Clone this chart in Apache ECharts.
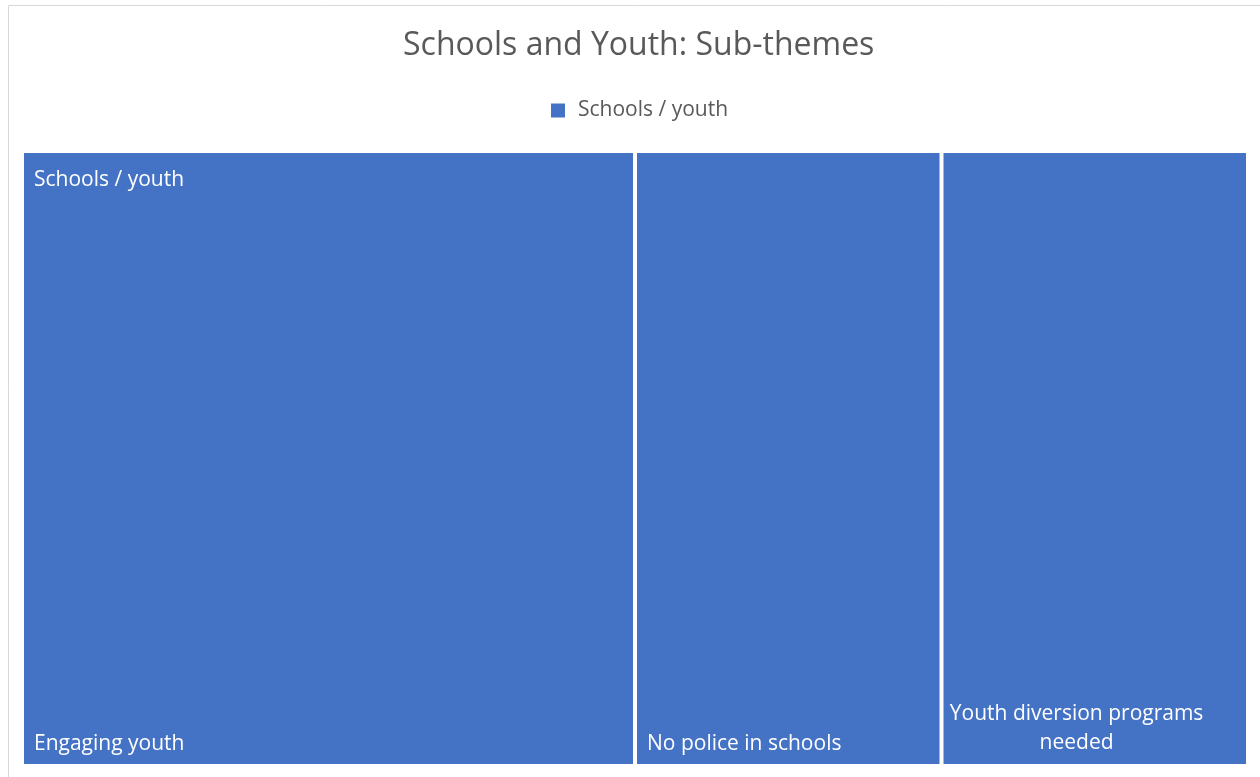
<!DOCTYPE html>
<html><head><meta charset="utf-8">
<script src="https://cdn.jsdelivr.net/npm/echarts@6/dist/echarts.min.js"></script>
<style>html,body{margin:0;padding:0;background:#fff}#c{width:1260px;height:777px}</style>
</head><body><div id="c"></div>
<script>
const title = 'Schools and Youth: Sub-themes';
const parentName = 'Schools / youth';
const categories = ['Engaging youth', 'No police in schools', 'Youth diversion programs needed'];
const values = [2, 1, 1];

const FONT = '"Open Sans", sans-serif';
const BLUE = '#4472c4';
const chart = echarts.init(document.getElementById('c'));
const leafLabel = {
  show: true, position: 'insideBottomLeft', distance: 0, offset: [5, -4],
  color: '#fff', fontFamily: FONT, fontSize: 21
};
const data = categories.map((n, i) => {
  const d = { name: n, value: values[i], itemStyle: { color: BLUE } };
  if (i === 2) {
    d.label = { position: ['44%', '100%'], offset: [0, -1], align: 'center', verticalAlign: 'bottom',
      lineHeight: 29, formatter: 'Youth diversion programs\nneeded' };
  }
  return d;
});
chart.setOption({
  animation: false,
  color: [BLUE],
  title: { text: title, left: 398, top: 25, textStyle: { color: '#595959', fontFamily: FONT, fontSize: 32, fontWeight: 'normal' } },
  legend: { data: [{ name: parentName, itemStyle: { color: BLUE } }], top: 95, left: 546, itemWidth: 14, itemHeight: 14, icon: 'rect',
    textStyle: { color: '#595959', fontFamily: FONT, fontSize: 21, padding: [0, 0, 0, 8] } },
  graphic: [
    { type: 'rect', shape: { x: 8.5, y: 5.5, width: 1260, height: 800 }, style: { fill: 'none', stroke: '#d9d9d9', lineWidth: 1 }, silent: true },
    { type: 'text', left: 34, top: 170, style: { text: parentName, fill: '#fff', font: '21px ' + FONT }, silent: true, z: 100 }
  ],
  series: [{
    type: 'treemap', name: parentName,
    left: 24, top: 153, right: 14, bottom: 13,
    roam: false, nodeClick: false, breadcrumb: { show: false },
    squareRatio: 2, sort: false,
    itemStyle: { color: BLUE, borderColor: '#fff', borderWidth: 0, gapWidth: 4 },
    label: leafLabel,
    data: data
  }]
});
</script></body></html>
